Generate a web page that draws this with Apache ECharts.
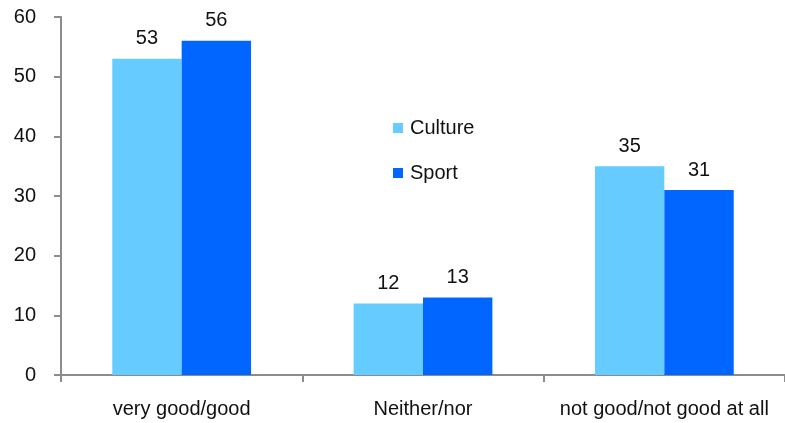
<!DOCTYPE html>
<html>
<head>
<meta charset="utf-8">
<script src="https://cdn.jsdelivr.net/npm/echarts@6/dist/echarts.min.js"></script>
<style>
  html, body { margin: 0; padding: 0; background: #fff; }
  #chart { width: 785px; height: 423px; }
</style>
</head>
<body>
<div id="chart"></div>
<script>
// Ratings by category
const categories = ['very good/good', 'Neither/nor', 'not good/not good at all'];
const cultureValues = [53, 12, 35];
const sportValues = [56, 13, 31];
const yTicks = { min: 0, max: 60, interval: 10 };

const FONT = '"Liberation Sans", Arial, sans-serif';
const AXIS_GREY = '#8c8c8c';
const TEXT = '#111';

const chart = echarts.init(document.getElementById('chart'));

const valueLabel = {
  show: true,
  position: 'top',
  distance: 10,
  color: TEXT,
  fontFamily: FONT,
  fontSize: 20
};

chart.setOption({
  animation: false,
  backgroundColor: '#fff',
  grid: { left: 61, right: 0, top: 17, bottom: 48, containLabel: false },
  legend: {
    orient: 'vertical',
    left: 388,
    top: 113,
    itemWidth: 10,
    itemHeight: 10,
    itemGap: 25,
    icon: 'rect',
    textStyle: { fontFamily: FONT, fontSize: 20, color: TEXT, padding: [0, 0, 0, 2] },
    data: ['Culture', 'Sport']
  },
  xAxis: {
    type: 'category',
    data: categories,
    axisLine: { lineStyle: { color: AXIS_GREY, width: 2 } },
    axisTick: { show: true, length: 7, lineStyle: { color: AXIS_GREY, width: 2 } },
    axisLabel: { interval: 0, fontFamily: FONT, fontSize: 20, color: TEXT, margin: 24 }
  },
  yAxis: {
    type: 'value',
    min: yTicks.min,
    max: yTicks.max,
    interval: yTicks.interval,
    splitLine: { show: false },
    axisLine: { show: true, lineStyle: { color: AXIS_GREY, width: 2 } },
    axisTick: { show: true, length: 7, lineStyle: { color: AXIS_GREY, width: 2 } },
    axisLabel: { fontFamily: FONT, fontSize: 20, color: TEXT, margin: 25 }
  },
  series: [
    {
      name: 'Culture',
      type: 'bar',
      data: cultureValues,
      barGap: '0%',
      barCategoryGap: '42.5%',
      itemStyle: { color: '#66CCFF' },
      label: valueLabel
    },
    {
      name: 'Sport',
      type: 'bar',
      data: sportValues,
      barGap: '0%',
      barCategoryGap: '42.5%',
      itemStyle: { color: '#0066FF' },
      label: valueLabel
    }
  ]
});
</script>
</body>
</html>
